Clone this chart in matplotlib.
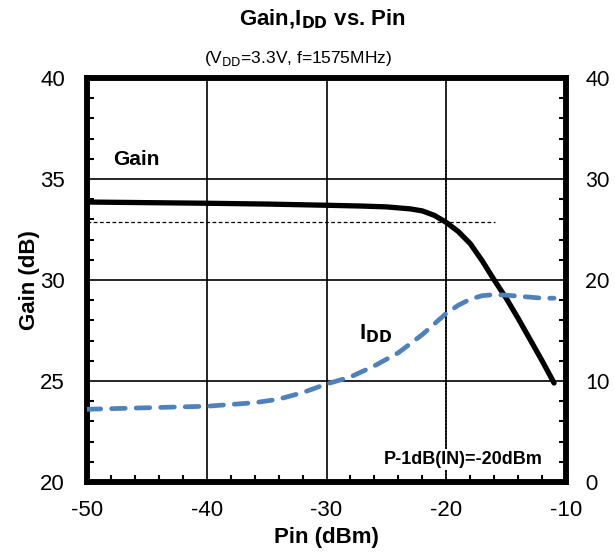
import matplotlib
matplotlib.use('Agg')
from matplotlib import pyplot as plt
from matplotlib.ticker import MultipleLocator

# gain curve (left axis, dB)
pin_gain = [-50, -45, -40, -35, -30, -27, -25, -23, -22, -21, -20, -19,
            -18, -17, -16, -15, -14, -13, -12, -11]
gain = [33.86, 33.83, 33.8, 33.76, 33.7, 33.66, 33.62, 33.52, 33.42, 33.2,
        32.85, 32.4, 31.8, 30.95, 30.0, 29.1, 28.1, 27.05, 26.0, 24.9]

# drain current curve (right axis, mA)
pin_idd = [-50, -45, -40, -36, -34, -32, -30, -28, -26, -24, -22, -20,
           -19, -18, -17, -16, -15, -14, -13, -12, -11]
idd = [7.2, 7.35, 7.5, 7.85, 8.2, 8.85, 9.7, 10.4, 11.5, 12.8, 14.6, 16.7,
       17.5, 18.1, 18.45, 18.55, 18.5, 18.4, 18.3, 18.2, 18.2]

p1db_in = -20
p1db_gain = 32.85

xticks = [-50, -40, -30, -20, -10]
left_ticks = [20, 25, 30, 35, 40]
right_ticks = [0, 10, 20, 30, 40]

arial = 'Liberation Sans'
blue = '#4F81BD'

plt.rcParams['axes.unicode_minus'] = False

fig = plt.figure(figsize=(6.15, 5.56), dpi=100)
ax = fig.add_axes([0.1415, 0.1331, 0.7789, 0.7266])

ax.set_xlim(-50, -10)
ax.set_ylim(20, 40)
ax.set_xticks(xticks)
ax.set_yticks(left_ticks)
ax.xaxis.set_minor_locator(MultipleLocator(2))
ax.yaxis.set_minor_locator(MultipleLocator(1))
ax.grid(True, which='major', color='black', lw=1.2)
ax.set_axisbelow(True)
ax.tick_params(which='both', direction='in', length=5, width=1.5,
               top=False, right=False, labelsize=16)
ax.tick_params(which='major', length=0)
ax.tick_params(axis='y', pad=16)
ax.tick_params(axis='x', pad=13)
for lab in ax.get_xticklabels() + ax.get_yticklabels():
    lab.set_fontfamily(arial)
for s in ax.spines.values():
    s.set_linewidth(4)

# reference lines for P-1dB
ax.plot([-50, -15.9], [p1db_gain, p1db_gain], color='black', lw=0.9,
        ls=(0, (3, 2)), zorder=3)
ax.plot([p1db_in, p1db_in], [20, 36], color='black', lw=1.2,
        ls=(0, (1, 1)), zorder=3)

ax.plot(pin_gain, gain, color='black', lw=3.8, solid_capstyle='round',
        zorder=5)

ax.set_xlabel('Pin (dBm)', fontsize=16, fontweight='bold', family=arial,
              labelpad=4)
ax.set_ylabel('Gain (dB)', fontsize=16, fontweight='bold', family=arial,
              labelpad=0)

ax2 = ax.twinx()
ax2.set_ylim(0, 40)
ax2.set_yticks(right_ticks)
ax2.yaxis.set_minor_locator(MultipleLocator(2))
ax2.tick_params(which='both', direction='in', length=5, width=1.5,
                labelsize=15, pad=14)
ax2.tick_params(which='major', length=0)
for lab in ax2.get_yticklabels():
    lab.set_fontfamily('Lato')
for s in ax2.spines.values():
    s.set_linewidth(4)
ax2.plot(pin_idd, idd, color=blue, lw=3.4, ls=(0, (2.9, 2.3)),
         dash_capstyle='round', zorder=4)

ax.text(-47.8, 35.5, 'Gain', fontsize=15, fontweight='bold', family=arial,
        va='bottom')
ax.text(-27.3, 26.8, r'I$_{\mathbf{DD}}$', fontsize=16, fontweight='bold',
        family=arial, va='bottom')
ax.text(-18.6, 20.7, 'P-1dB(IN)=-20dBm', fontsize=13, fontweight='bold',
        family=arial, ha='center', va='bottom', zorder=6,
        bbox=dict(facecolor='white', edgecolor='none', pad=1.5))

fig.text(0.524, 0.945, r'Gain,I$_{\mathbf{DD}}$ vs. Pin', fontsize=16,
         fontweight='bold', family=arial, ha='center', va='bottom')
fig.text(0.484, 0.878, r'(V$_{\mathrm{DD}}$=3.3V, f=1575MHz)', fontsize=12.5,
         family=arial, ha='center', va='bottom')

fig.savefig('out.png', dpi=100)
